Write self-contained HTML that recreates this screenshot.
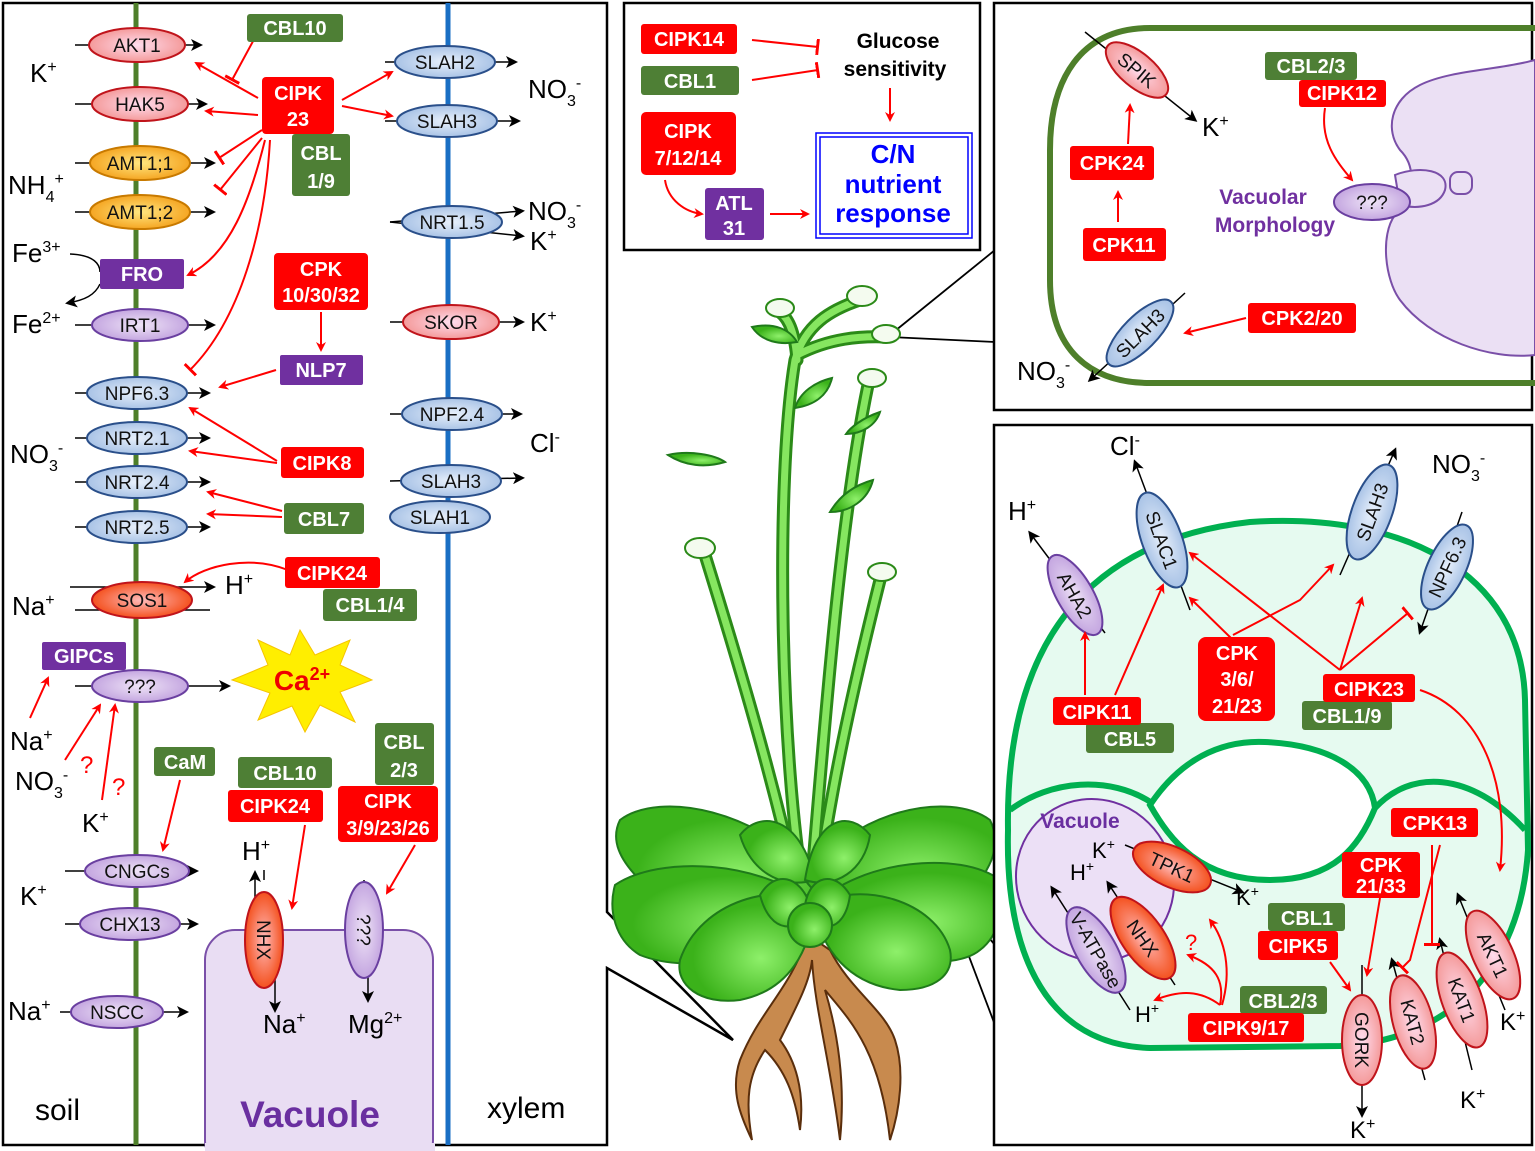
<!DOCTYPE html>
<html><head><meta charset="utf-8"><style>
html,body{margin:0;padding:0;background:#fff}
svg{display:block}
text{font-family:"Liberation Sans",Arial,sans-serif}
.w{fill:#fff;font-weight:bold;font-size:20px;text-anchor:middle}
.e{font-size:19px;text-anchor:middle;fill:#111}
.k{font-size:26px;fill:#000}
</style></head><body>
<svg width="1535" height="1151" viewBox="0 0 1535 1151" xmlns="http://www.w3.org/2000/svg">
<defs>
<marker id="ar" markerWidth="10" markerHeight="10" refX="8" refY="5" orient="auto" markerUnits="userSpaceOnUse"><path d="M0,0 L10,5 L0,10 L3,5Z" fill="#f00"/></marker>
<marker id="ak" markerWidth="12" markerHeight="12" refX="9" refY="6" orient="auto" markerUnits="userSpaceOnUse"><path d="M0,0 L12,6 L0,12 L3,6Z" fill="#000"/></marker>
<marker id="tb" markerWidth="4" markerHeight="16" refX="2" refY="8" orient="auto" markerUnits="userSpaceOnUse"><rect x="0" y="0" width="3" height="16" fill="#f00"/></marker>
<radialGradient id="gp"><stop offset="0" stop-color="#fde"/><stop offset="1" stop-color="#f49a9a"/></radialGradient>
<radialGradient id="go"><stop offset="0" stop-color="#ffe680"/><stop offset="1" stop-color="#f5a623"/></radialGradient>
<radialGradient id="gr"><stop offset="0" stop-color="#fbb"/><stop offset="1" stop-color="#f4511e"/></radialGradient>
<radialGradient id="gb"><stop offset="0" stop-color="#e8f0fb"/><stop offset="1" stop-color="#a9c3e6"/></radialGradient>
<radialGradient id="gv"><stop offset="0" stop-color="#efe4f7"/><stop offset="1" stop-color="#c4a6e0"/></radialGradient>
<radialGradient id="gl" cx="0.6" cy="0.6"><stop offset="0" stop-color="#8ef06a"/><stop offset="1" stop-color="#3bb21a"/></radialGradient>
</defs>

<!-- LEFT PANEL -->
<path d="M607,3 L3,3 L3,1145 L607,1145 L607,968 L733,1040 L607,912 Z" fill="#fff" stroke="#000" stroke-width="2.5"/>
<rect x="205" y="930" width="228" height="240" rx="30" fill="#e9ddf3" stroke="#7a4fa8" stroke-width="2"/>
<rect x="205" y="1143" width="230" height="8" fill="#e9ddf3"/>
<line x1="136" y1="3" x2="136" y2="1145" stroke="#4e7f2a" stroke-width="5"/>
<line x1="448" y1="3" x2="448" y2="1145" stroke="#1a6fc4" stroke-width="5"/>
<text x="35" y="1120" font-size="30">soil</text>
<text x="310" y="1127" font-size="37" font-weight="bold" fill="#6a2fa0" text-anchor="middle">Vacuole</text>
<text x="487" y="1118" font-size="30">xylem</text>

<g stroke="#000" stroke-width="1.5" fill="none">
<line x1="75" y1="45" x2="200" y2="45" marker-end="url(#ak)"/>
<line x1="75" y1="104" x2="205" y2="104" marker-end="url(#ak)"/>
<line x1="75" y1="163" x2="213" y2="163" marker-end="url(#ak)"/>
<line x1="75" y1="212" x2="213" y2="212" marker-end="url(#ak)"/>
<line x1="75" y1="325" x2="213" y2="325" marker-end="url(#ak)"/>
<line x1="75" y1="393" x2="208" y2="393" marker-end="url(#ak)"/>
<line x1="75" y1="438" x2="208" y2="438" marker-end="url(#ak)"/>
<line x1="75" y1="482" x2="208" y2="482" marker-end="url(#ak)"/>
<line x1="75" y1="527" x2="208" y2="527" marker-end="url(#ak)"/>
<line x1="70" y1="587" x2="213" y2="587" marker-end="url(#ak)"/>
<line x1="210" y1="610" x2="75" y2="610"/>
<line x1="75" y1="686" x2="228" y2="686" marker-end="url(#ak)"/>
<line x1="65" y1="871" x2="196" y2="871" marker-end="url(#ak)"/>
<line x1="65" y1="924" x2="196" y2="924" marker-end="url(#ak)"/>
<line x1="60" y1="1012" x2="186" y2="1012" marker-end="url(#ak)"/>
<line x1="385" y1="62" x2="515" y2="62" marker-end="url(#ak)"/>
<line x1="385" y1="121" x2="518" y2="121" marker-end="url(#ak)"/>
<line x1="390" y1="222" x2="522" y2="211" marker-end="url(#ak)"/>
<line x1="390" y1="222" x2="522" y2="236" marker-end="url(#ak)"/>
<line x1="390" y1="322" x2="522" y2="322" marker-end="url(#ak)"/>
<line x1="390" y1="414" x2="520" y2="414" marker-end="url(#ak)"/>
<line x1="390" y1="481" x2="522" y2="478" marker-end="url(#ak)"/>
<path d="M70,254 C95,255 100,265 100,272"/>
<path d="M100,284 C95,295 85,300 68,303" marker-end="url(#ak)"/>
<line x1="264" y1="870" x2="264" y2="880"/>
<line x1="255" y1="905" x2="255" y2="873" marker-end="url(#ak)"/>
<line x1="275" y1="975" x2="275" y2="1010" marker-end="url(#ak)"/>
<line x1="364" y1="880" x2="364" y2="895"/>
<line x1="368" y1="970" x2="368" y2="1000" marker-end="url(#ak)"/>
</g>

<g stroke-width="2">
<ellipse cx="137" cy="45" rx="48" ry="17" fill="url(#gp)" stroke="#c0141b"/>
<ellipse cx="140" cy="104" rx="48" ry="17" fill="url(#gp)" stroke="#c0141b"/>
<ellipse cx="140" cy="163" rx="50" ry="17" fill="url(#go)" stroke="#c87a00"/>
<ellipse cx="140" cy="212" rx="50" ry="17" fill="url(#go)" stroke="#c87a00"/>
<ellipse cx="140" cy="325" rx="48" ry="16" fill="url(#gv)" stroke="#6a3fa0"/>
<ellipse cx="137" cy="393" rx="50" ry="16" fill="url(#gb)" stroke="#2a4f8a"/>
<ellipse cx="137" cy="438" rx="50" ry="16" fill="url(#gb)" stroke="#2a4f8a"/>
<ellipse cx="137" cy="482" rx="50" ry="16" fill="url(#gb)" stroke="#2a4f8a"/>
<ellipse cx="137" cy="527" rx="50" ry="16" fill="url(#gb)" stroke="#2a4f8a"/>
<ellipse cx="142" cy="600" rx="50" ry="18" fill="url(#gr)" stroke="#c0141b"/>
<ellipse cx="140" cy="686" rx="48" ry="16" fill="url(#gv)" stroke="#6a3fa0"/>
<ellipse cx="137" cy="871" rx="52" ry="16" fill="url(#gv)" stroke="#6a3fa0"/>
<ellipse cx="130" cy="924" rx="50" ry="16" fill="url(#gv)" stroke="#6a3fa0"/>
<ellipse cx="117" cy="1012" rx="46" ry="16" fill="url(#gv)" stroke="#6a3fa0"/>
<ellipse cx="445" cy="62" rx="50" ry="16" fill="url(#gb)" stroke="#2a4f8a"/>
<ellipse cx="447" cy="121" rx="50" ry="16" fill="url(#gb)" stroke="#2a4f8a"/>
<ellipse cx="452" cy="222" rx="50" ry="16" fill="url(#gb)" stroke="#2a4f8a"/>
<ellipse cx="451" cy="322" rx="48" ry="17" fill="url(#gp)" stroke="#c0141b"/>
<ellipse cx="452" cy="414" rx="50" ry="16" fill="url(#gb)" stroke="#2a4f8a"/>
<ellipse cx="451" cy="481" rx="50" ry="16" fill="url(#gb)" stroke="#2a4f8a"/>
<ellipse cx="440" cy="517" rx="50" ry="16" fill="url(#gb)" stroke="#2a4f8a"/>
<ellipse cx="264" cy="940" rx="19" ry="48" fill="url(#gr)" stroke="#c0141b"/>
<ellipse cx="364" cy="930" rx="19" ry="48" fill="url(#gv)" stroke="#6a3fa0"/>
</g>
<g class="e">
<text x="137" y="52">AKT1</text><text x="140" y="111">HAK5</text>
<text x="140" y="170">AMT1;1</text><text x="140" y="219">AMT1;2</text>
<text x="140" y="332">IRT1</text><text x="137" y="400">NPF6.3</text>
<text x="137" y="445">NRT2.1</text><text x="137" y="489">NRT2.4</text>
<text x="137" y="534">NRT2.5</text><text x="142" y="607">SOS1</text>
<text x="140" y="693">???</text><text x="137" y="878">CNGCs</text>
<text x="130" y="931">CHX13</text><text x="117" y="1019">NSCC</text>
<text x="445" y="69">SLAH2</text><text x="447" y="128">SLAH3</text>
<text x="452" y="229">NRT1.5</text><text x="451" y="329">SKOR</text>
<text x="452" y="421">NPF2.4</text><text x="451" y="488">SLAH3</text>
<text x="440" y="524">SLAH1</text>
<text transform="translate(257,940) rotate(90)">NHX</text>
<text transform="translate(357,930) rotate(90)">???</text>
</g>

<g class="k">
<text x="30" y="82">K<tspan font-size="16" dy="-10">+</tspan></text>
<text x="8" y="194">NH<tspan font-size="16" dy="8">4</tspan><tspan font-size="16" dy="-18">+</tspan></text>
<text x="12" y="262">Fe<tspan font-size="16" dy="-10">3+</tspan></text>
<text x="12" y="333">Fe<tspan font-size="16" dy="-10">2+</tspan></text>
<text x="10" y="463">NO<tspan font-size="16" dy="8">3</tspan><tspan font-size="16" dy="-18">-</tspan></text>
<text x="12" y="615">Na<tspan font-size="16" dy="-10">+</tspan></text>
<text x="225" y="594">H<tspan font-size="16" dy="-10">+</tspan></text>
<text x="10" y="750">Na<tspan font-size="16" dy="-10">+</tspan></text>
<text x="15" y="790">NO<tspan font-size="16" dy="8">3</tspan><tspan font-size="16" dy="-18">-</tspan></text>
<text x="82" y="832">K<tspan font-size="16" dy="-10">+</tspan></text>
<text x="20" y="905">K<tspan font-size="16" dy="-10">+</tspan></text>
<text x="8" y="1020">Na<tspan font-size="16" dy="-10">+</tspan></text>
<text x="242" y="860">H<tspan font-size="16" dy="-10">+</tspan></text>
<text x="263" y="1033">Na<tspan font-size="16" dy="-10">+</tspan></text>
<text x="348" y="1033">Mg<tspan font-size="16" dy="-10">2+</tspan></text>
<text x="528" y="98">NO<tspan font-size="16" dy="8">3</tspan><tspan font-size="16" dy="-18">-</tspan></text>
<text x="528" y="220">NO<tspan font-size="16" dy="8">3</tspan><tspan font-size="16" dy="-18">-</tspan></text>
<text x="530" y="250">K<tspan font-size="16" dy="-10">+</tspan></text>
<text x="530" y="331">K<tspan font-size="16" dy="-10">+</tspan></text>
<text x="530" y="452">Cl<tspan font-size="16" dy="-10">-</tspan></text>
</g>
<text x="80" y="773" font-size="24" fill="#f00">?</text>
<text x="112" y="795" font-size="24" fill="#f00">?</text>

<polygon points="300,630 315,655 350,640 340,665 372,680 340,692 355,722 320,705 305,732 292,706 258,720 270,693 232,680 268,665 258,640 290,655" fill="#ffee00" stroke="#f5c400" stroke-width="1"/>
<text x="302" y="690" font-size="28" font-weight="bold" fill="#e00" text-anchor="middle">Ca<tspan font-size="18" dy="-10">2+</tspan></text>

<g stroke="#f00" stroke-width="2" fill="none">
<line x1="258" y1="32" x2="232" y2="80" marker-end="url(#tb)"/>
<line x1="258" y1="98" x2="196" y2="63" marker-end="url(#ar)"/>
<line x1="258" y1="115" x2="206" y2="111" marker-end="url(#ar)"/>
<line x1="262" y1="130" x2="219" y2="158" marker-end="url(#tb)"/>
<line x1="262" y1="138" x2="220" y2="190" marker-end="url(#tb)"/>
<path d="M265,140 C250,200 230,255 188,275" marker-end="url(#ar)"/>
<path d="M270,140 C265,230 240,320 190,370" marker-end="url(#tb)"/>
<line x1="342" y1="100" x2="392" y2="72" marker-end="url(#ar)"/>
<line x1="342" y1="106" x2="392" y2="116" marker-end="url(#ar)"/>
<line x1="321" y1="312" x2="321" y2="350" marker-end="url(#ar)"/>
<line x1="276" y1="370" x2="220" y2="387" marker-end="url(#ar)"/>
<line x1="277" y1="461" x2="190" y2="408" marker-end="url(#ar)"/>
<line x1="277" y1="463" x2="190" y2="451" marker-end="url(#ar)"/>
<line x1="282" y1="511" x2="208" y2="492" marker-end="url(#ar)"/>
<line x1="282" y1="517" x2="208" y2="514" marker-end="url(#ar)"/>
<path d="M288,570 C250,555 205,565 185,582" marker-end="url(#ar)"/>
<line x1="30" y1="718" x2="48" y2="678" marker-end="url(#ar)"/>
<line x1="65" y1="760" x2="100" y2="705" marker-end="url(#ar)"/>
<line x1="102" y1="800" x2="115" y2="705" marker-end="url(#ar)"/>
<line x1="180" y1="780" x2="163" y2="850" marker-end="url(#ar)"/>
<line x1="305" y1="825" x2="292" y2="908" marker-end="url(#ar)"/>
<line x1="415" y1="845" x2="387" y2="893" marker-end="url(#ar)"/>
</g>

<g>
<rect x="247" y="14" width="96" height="28" rx="3" fill="#4e7f35"/><text class="w" x="295" y="35">CBL10</text>
<rect x="292" y="134" width="58" height="62" rx="3" fill="#4e7f35"/><text class="w" x="321" y="160">CBL</text><text class="w" x="321" y="188">1/9</text>
<rect x="262" y="77" width="72" height="57" rx="4" fill="#f00"/><text class="w" x="298" y="100">CIPK</text><text class="w" x="298" y="126">23</text>
<rect x="100" y="259" width="84" height="30" rx="2" fill="#7030a0"/><text class="w" x="142" y="281">FRO</text>
<rect x="274" y="253" width="94" height="57" rx="4" fill="#f00"/><text class="w" x="321" y="276">CPK</text><text class="w" x="321" y="302">10/30/32</text>
<rect x="280" y="355" width="83" height="30" rx="2" fill="#7030a0"/><text class="w" x="321" y="377">NLP7</text>
<rect x="281" y="447" width="83" height="31" rx="3" fill="#f00"/><text class="w" x="322" y="470">CIPK8</text>
<rect x="284" y="503" width="80" height="31" rx="3" fill="#4e7f35"/><text class="w" x="324" y="526">CBL7</text>
<rect x="285" y="557" width="95" height="31" rx="3" fill="#f00"/><text class="w" x="332" y="580">CIPK24</text>
<rect x="323" y="589" width="94" height="32" rx="3" fill="#4e7f35"/><text class="w" x="370" y="612">CBL1/4</text>
<rect x="42" y="642" width="84" height="28" rx="2" fill="#7030a0"/><text class="w" x="84" y="663">GIPCs</text>
<rect x="154" y="747" width="61" height="29" rx="3" fill="#4e7f35"/><text class="w" x="185" y="769">CaM</text>
<rect x="238" y="757" width="94" height="31" rx="3" fill="#4e7f35"/><text class="w" x="285" y="780">CBL10</text>
<rect x="228" y="790" width="95" height="32" rx="3" fill="#f00"/><text class="w" x="275" y="813">CIPK24</text>
<rect x="375" y="723" width="59" height="62" rx="3" fill="#4e7f35"/><text class="w" x="404" y="749">CBL</text><text class="w" x="404" y="777">2/3</text>
<rect x="338" y="786" width="100" height="56" rx="4" fill="#f00"/><text class="w" x="388" y="808">CIPK</text><text class="w" x="388" y="835">3/9/23/26</text>
</g>

<!-- TOP MIDDLE PANEL -->
<rect x="624" y="3" width="356" height="247" fill="#fff" stroke="#000" stroke-width="2.5"/>
<rect x="641" y="24" width="96" height="30" rx="3" fill="#f00"/><text class="w" x="689" y="46">CIPK14</text>
<rect x="641" y="66" width="98" height="29" rx="3" fill="#4e7f35"/><text class="w" x="690" y="88">CBL1</text>
<rect x="641" y="112" width="95" height="63" rx="5" fill="#f00"/><text class="w" x="688" y="138">CIPK</text><text class="w" x="688" y="165">7/12/14</text>
<rect x="705" y="188" width="59" height="52" rx="3" fill="#7030a0"/><text class="w" x="734" y="210">ATL</text><text class="w" x="734" y="235">31</text>
<text x="898" y="48" font-size="21" font-weight="bold" text-anchor="middle">Glucose</text>
<text x="895" y="76" font-size="21" font-weight="bold" text-anchor="middle">sensitivity</text>
<rect x="816" y="133" width="156" height="105" fill="none" stroke="#0000ff" stroke-width="1.5"/>
<rect x="820" y="137" width="148" height="97" fill="none" stroke="#0000ff" stroke-width="1.5"/>
<g font-size="26" font-weight="bold" fill="#0000ff" text-anchor="middle">
<text x="893" y="163">C/N</text><text x="893" y="193">nutrient</text><text x="893" y="222">response</text></g>
<g stroke="#f00" stroke-width="2" fill="none">
<line x1="752" y1="40" x2="818" y2="47" marker-end="url(#tb)"/>
<line x1="752" y1="80" x2="818" y2="70" marker-end="url(#tb)"/>
<line x1="890" y1="88" x2="890" y2="120" marker-end="url(#ar)"/>
<path d="M665,180 C668,200 685,212 702,214" marker-end="url(#ar)"/>
<line x1="770" y1="214" x2="808" y2="214" marker-end="url(#ar)"/>
</g>

<!-- PLANT -->
<g stroke="#000" stroke-width="1.8" fill="none">
<polyline points="890,335 995,250"/>
<polyline points="890,337 995,342"/>
<polyline points="940,880 995,945"/>
<polyline points="940,880 995,1025"/>
</g>
<g stroke="#1f7a1a" stroke-width="2">
<g fill="#c88a4e" stroke="#5a2e0c">
<path d="M808,935 C790,990 760,1010 740,1060 C730,1090 740,1115 752,1140 C745,1100 748,1075 765,1050 C785,1070 795,1095 800,1130 C805,1090 795,1060 780,1040 C800,1000 810,980 812,960 C815,1010 830,1060 840,1140 C845,1090 840,1040 825,990 C850,1020 880,1050 890,1140 C900,1110 905,1070 895,1040 C885,1010 850,990 830,950 Z"/>
</g>
<g fill="none" stroke="#2b8a18" stroke-width="13" stroke-linecap="round">
<path d="M805,900 C780,760 775,480 795,360 C805,325 830,310 860,300"/>
<path d="M810,900 C825,720 840,520 868,385"/>
<path d="M800,900 C775,790 750,700 705,555"/>
<path d="M815,900 C830,800 845,720 880,580"/>
<path d="M797,355 C830,338 860,336 886,337"/>
<path d="M797,360 C795,335 790,320 780,312"/>
</g>
<g fill="none" stroke="#86e660" stroke-width="7" stroke-linecap="round">
<path d="M805,900 C780,760 775,480 795,360 C805,325 830,310 860,300"/>
<path d="M810,900 C825,720 840,520 868,385"/>
<path d="M800,900 C775,790 750,700 705,555"/>
<path d="M815,900 C830,800 845,720 880,580"/>
<path d="M797,355 C830,338 860,336 886,337"/>
<path d="M797,360 C795,335 790,320 780,312"/>
</g>
<g fill="#f4fbef" stroke="#2b8a18">
<ellipse cx="780" cy="308" rx="14" ry="9"/><ellipse cx="862" cy="296" rx="15" ry="10"/><ellipse cx="886" cy="334" rx="14" ry="9"/><ellipse cx="872" cy="378" rx="14" ry="9"/><ellipse cx="882" cy="572" rx="14" ry="9"/><ellipse cx="700" cy="548" rx="15" ry="10"/></g>
<g fill="url(#gl)">
<path d="M752,327 C775,322 790,330 797,342 C780,345 762,342 752,327Z"/>
<path d="M832,378 C815,382 800,392 795,408 C815,405 828,395 832,378Z"/>
<path d="M880,412 C862,418 850,428 846,434 C862,434 876,425 880,412Z"/>
<path d="M668,455 C690,450 715,455 725,462 C705,468 685,466 668,455Z"/>
<path d="M873,480 C855,485 840,495 830,512 C850,512 868,500 873,480Z"/>
<path d="M620,820 C660,790 760,810 820,880 C780,940 680,930 640,880 C620,860 610,840 620,820Z"/>
<path d="M990,820 C950,790 850,810 805,880 C850,940 940,930 980,880 C995,860 1000,840 990,820Z"/>
<path d="M615,885 C660,855 760,860 815,905 C780,960 690,975 640,955 C615,940 608,910 615,885Z"/>
<path d="M1000,880 C960,850 860,860 815,905 C850,960 950,975 980,950 C1000,935 1005,905 1000,880Z"/>
<path d="M680,960 C700,900 780,880 815,905 C810,950 790,990 740,1000 C700,1005 675,985 680,960Z"/>
<path d="M950,950 C935,900 860,880 815,905 C820,950 850,985 900,990 C935,990 955,975 950,950Z"/>
<path d="M740,835 C760,810 800,815 815,880 C780,890 750,870 740,835Z"/>
<path d="M870,835 C850,810 815,815 805,880 C835,890 865,870 870,835Z"/>
<path d="M760,895 C775,870 800,875 810,905 C800,935 770,935 760,895Z"/>
<path d="M850,895 C835,870 810,875 805,905 C815,935 845,935 850,895Z"/>
<ellipse cx="810" cy="925" rx="22" ry="22"/>
</g>
</g>

<!-- TOP RIGHT PANEL -->
<rect x="994" y="3" width="538" height="407" fill="#fff" stroke="#000" stroke-width="2.5"/>
<path d="M1535,28 L1150,28 C1080,28 1050,80 1050,150 L1050,280 C1050,350 1090,383 1150,383 L1535,383" fill="none" stroke="#4e7f2a" stroke-width="6"/>
<path d="M1535,60 C1500,70 1450,70 1420,85 C1390,100 1385,130 1400,150 C1420,170 1410,200 1395,215 C1380,235 1385,280 1400,300 C1430,340 1490,360 1535,355 Z" fill="#ebe0f4" stroke="#7a4fa8" stroke-width="2"/>
<path d="M1395,175 C1420,165 1450,170 1445,190 C1440,205 1420,210 1400,205 Z" fill="#ebe0f4" stroke="#7a4fa8" stroke-width="2"/>
<rect x="1450" y="172" width="22" height="22" rx="8" fill="#ebe0f4" stroke="#7a4fa8" stroke-width="2"/>
<ellipse cx="1372" cy="202" rx="38" ry="18" fill="url(#gv)" stroke="#6a3fa0" stroke-width="2"/>
<text class="e" x="1372" y="209">???</text>
<text x="1263" y="204" font-size="21" font-weight="bold" fill="#7030a0" text-anchor="middle">Vacuolar</text>
<text x="1275" y="232" font-size="21" font-weight="bold" fill="#7030a0" text-anchor="middle">Morphology</text>
<g stroke="#000" stroke-width="1.5" fill="none">
<line x1="1085" y1="32" x2="1195" y2="120" marker-end="url(#ak)"/>
<line x1="1185" y1="293" x2="1090" y2="380" marker-end="url(#ak)"/>
</g>
<g transform="translate(1137,70) rotate(40)"><ellipse rx="38" ry="17" fill="url(#gp)" stroke="#c0141b" stroke-width="2"/><text class="e" y="7">SPIK</text></g>
<g transform="translate(1140,333) rotate(-45)"><ellipse rx="44" ry="17" fill="url(#gb)" stroke="#2a4f8a" stroke-width="2"/><text class="e" y="7">SLAH3</text></g>
<text class="k" x="1202" y="136">K<tspan font-size="16" dy="-10">+</tspan></text>
<text class="k" x="1017" y="380">NO<tspan font-size="16" dy="8">3</tspan><tspan font-size="16" dy="-18">-</tspan></text>
<g stroke="#f00" stroke-width="2" fill="none">
<line x1="1118" y1="222" x2="1118" y2="192" marker-end="url(#ar)"/>
<line x1="1128" y1="144" x2="1130" y2="105" marker-end="url(#ar)"/>
<path d="M1325,108 C1320,140 1335,160 1352,180" marker-end="url(#ar)"/>
<line x1="1246" y1="318" x2="1185" y2="333" marker-end="url(#ar)"/>
</g>
<rect x="1070" y="146" width="84" height="34" rx="3" fill="#f00"/><text class="w" x="1112" y="170">CPK24</text>
<rect x="1083" y="228" width="83" height="33" rx="3" fill="#f00"/><text class="w" x="1124" y="252">CPK11</text>
<rect x="1265" y="52" width="92" height="28" rx="3" fill="#4e7f35"/><text class="w" x="1311" y="73">CBL2/3</text>
<rect x="1299" y="80" width="87" height="27" rx="3" fill="#f00"/><text class="w" x="1342" y="100">CIPK12</text>
<rect x="1248" y="303" width="108" height="30" rx="3" fill="#f00"/><text class="w" x="1302" y="325">CPK2/20</text>

<!-- BOTTOM RIGHT PANEL -->
<rect x="994" y="425" width="538" height="720" fill="#fff" stroke="#000" stroke-width="2.5"/>
<path d="M1008,830 C1005,640 1090,540 1250,522 C1400,512 1522,570 1525,700 L1528,850 C1520,970 1450,1040 1340,1046 L1150,1048 C1050,1045 1005,960 1008,830 Z" fill="#e6faf0" stroke="#00b050" stroke-width="6"/>
<path d="M1150,805 C1180,760 1220,740 1265,742 C1330,745 1370,770 1375,808 C1360,845 1335,880 1270,880 C1200,880 1170,840 1150,805 Z" fill="#fff" stroke="#00b050" stroke-width="6"/>
<path d="M1010,810 C1050,780 1110,775 1152,803 M1375,808 C1410,770 1470,770 1525,830" fill="none" stroke="#00b050" stroke-width="6"/>
<ellipse cx="1095" cy="880" rx="78" ry="82" transform="rotate(-30 1095 880)" fill="#ece0f6" stroke="#7030a0" stroke-width="2"/>
<text x="1080" y="828" font-size="21" font-weight="bold" fill="#6a2fa0" text-anchor="middle">Vacuole</text>

<g stroke="#000" stroke-width="1.5" fill="none">
<line x1="1105" y1="633" x2="1030" y2="533" marker-end="url(#ak)"/>
<line x1="1190" y1="610" x2="1135" y2="462" marker-end="url(#ak)"/>
<line x1="1340" y1="575" x2="1395" y2="450" marker-end="url(#ak)"/>
<line x1="1462" y1="512" x2="1420" y2="632" marker-end="url(#ak)"/>
<line x1="1125" y1="845" x2="1242" y2="892" marker-end="url(#ak)"/>
<line x1="1175" y1="985" x2="1108" y2="883" marker-end="url(#ak)"/>
<line x1="1130" y1="1010" x2="1052" y2="888" marker-end="url(#ak)"/>
<line x1="1362" y1="965" x2="1362" y2="1115" marker-end="url(#ak)"/>
<line x1="1425" y1="1080" x2="1392" y2="960" marker-end="url(#ak)"/>
<line x1="1472" y1="1070" x2="1440" y2="940" marker-end="url(#ak)"/>
<line x1="1505" y1="1010" x2="1458" y2="895" marker-end="url(#ak)"/>
</g>
<g stroke-width="2">
<g transform="translate(1075,595) rotate(60)"><ellipse rx="45" ry="18" fill="url(#gv)" stroke="#6a3fa0"/><text class="e" y="7">AHA2</text></g>
<g transform="translate(1162,540) rotate(70)"><ellipse rx="50" ry="20" fill="url(#gb)" stroke="#2a4f8a"/><text class="e" y="7">SLAC1</text></g>
<g transform="translate(1372,512) rotate(-70)"><ellipse rx="50" ry="20" fill="url(#gb)" stroke="#2a4f8a"/><text class="e" y="7">SLAH3</text></g>
<g transform="translate(1447,567) rotate(-65)"><ellipse rx="46" ry="19" fill="url(#gb)" stroke="#2a4f8a"/><text class="e" y="7">NPF6.3</text></g>
<g transform="translate(1172,867) rotate(25)"><ellipse rx="42" ry="20" fill="url(#gr)" stroke="#c0141b"/><text class="e" y="7">TPK1</text></g>
<g transform="translate(1143,938) rotate(55)"><ellipse rx="48" ry="21" fill="url(#gr)" stroke="#c0141b"/><text class="e" y="7">NHX</text></g>
<g transform="translate(1096,950) rotate(60)"><ellipse rx="48" ry="20" fill="url(#gv)" stroke="#6a3fa0"/><text class="e" y="7">V-ATPase</text></g>
<g transform="translate(1362,1040) rotate(90)"><ellipse rx="45" ry="20" fill="url(#gp)" stroke="#c0141b"/><text class="e" y="7">GORK</text></g>
<g transform="translate(1413,1022) rotate(75)"><ellipse rx="48" ry="20" fill="url(#gp)" stroke="#c0141b"/><text class="e" y="7">KAT2</text></g>
<g transform="translate(1462,1000) rotate(70)"><ellipse rx="50" ry="20" fill="url(#gp)" stroke="#c0141b"/><text class="e" y="7">KAT1</text></g>
<g transform="translate(1493,955) rotate(65)"><ellipse rx="48" ry="20" fill="url(#gp)" stroke="#c0141b"/><text class="e" y="7">AKT1</text></g>
</g>
<g class="k">
<text x="1110" y="455">Cl<tspan font-size="16" dy="-10">-</tspan></text>
<text x="1008" y="520">H<tspan font-size="16" dy="-10">+</tspan></text>
<text x="1432" y="473">NO<tspan font-size="16" dy="8">3</tspan><tspan font-size="16" dy="-18">-</tspan></text>
<text x="1092" y="858" font-size="22">K<tspan font-size="14" dy="-9">+</tspan></text>
<text x="1070" y="880" font-size="22">H<tspan font-size="14" dy="-9">+</tspan></text>
<text x="1236" y="905" font-size="22">K<tspan font-size="14" dy="-9">+</tspan></text>
<text x="1135" y="1022" font-size="22">H<tspan font-size="14" dy="-9">+</tspan></text>
<text x="1350" y="1138" font-size="24">K<tspan font-size="16" dy="-9">+</tspan></text>
<text x="1460" y="1108" font-size="24">K<tspan font-size="16" dy="-9">+</tspan></text>
<text x="1500" y="1030" font-size="24">K<tspan font-size="16" dy="-9">+</tspan></text>
</g>
<text x="1185" y="950" font-size="22" fill="#f00">?</text>
<g stroke="#f00" stroke-width="2" fill="none">
<line x1="1085" y1="695" x2="1085" y2="633" marker-end="url(#ar)"/>
<line x1="1115" y1="695" x2="1163" y2="585" marker-end="url(#ar)"/>
<polyline points="1233,635 1300,600 1333,565" marker-end="url(#ar)"/>
<line x1="1233" y1="640" x2="1190" y2="598" marker-end="url(#ar)"/>
<line x1="1340" y1="670" x2="1190" y2="553" marker-end="url(#ar)"/>
<line x1="1340" y1="670" x2="1362" y2="598" marker-end="url(#ar)"/>
<line x1="1340" y1="670" x2="1408" y2="613" marker-end="url(#tb)"/>
<path d="M1420,690 C1480,710 1510,780 1500,870" marker-end="url(#ar)"/>
<line x1="1380" y1="898" x2="1367" y2="975" marker-end="url(#ar)"/>
<line x1="1330" y1="962" x2="1350" y2="990" marker-end="url(#ar)"/>
<polyline points="1440,845 1410,960 1402,968" marker-end="url(#tb)"/>
<line x1="1432" y1="845" x2="1432" y2="945" marker-end="url(#tb)"/>
<path d="M1220,1005 C1200,990 1180,990 1155,1000" marker-end="url(#ar)"/>
<path d="M1220,1005 C1225,980 1215,965 1188,955" marker-end="url(#ar)"/>
<path d="M1222,1005 C1232,970 1225,940 1210,920" marker-end="url(#ar)"/>
</g>
<rect x="1198" y="637" width="77" height="84" rx="8" fill="#f00"/><text class="w" x="1237" y="660">CPK</text><text class="w" x="1237" y="686">3/6/</text><text class="w" x="1237" y="713">21/23</text>
<rect x="1086" y="723" width="88" height="30" rx="3" fill="#4e7f35"/><text class="w" x="1130" y="746">CBL5</text>
<rect x="1053" y="697" width="88" height="28" rx="3" fill="#f00"/><text class="w" x="1097" y="719">CIPK11</text>
<rect x="1302" y="701" width="90" height="29" rx="3" fill="#4e7f35"/><text class="w" x="1347" y="723">CBL1/9</text>
<rect x="1323" y="674" width="92" height="28" rx="3" fill="#f00"/><text class="w" x="1369" y="696">CIPK23</text>
<rect x="1391" y="808" width="87" height="29" rx="3" fill="#f00"/><text class="w" x="1435" y="830">CPK13</text>
<rect x="1342" y="852" width="78" height="46" rx="3" fill="#f00"/><text class="w" x="1381" y="872">CPK</text><text class="w" x="1381" y="893">21/33</text>
<rect x="1268" y="903" width="77" height="28" rx="3" fill="#4e7f35"/><text class="w" x="1307" y="925">CBL1</text>
<rect x="1258" y="931" width="80" height="29" rx="3" fill="#f00"/><text class="w" x="1298" y="953">CIPK5</text>
<rect x="1240" y="986" width="87" height="28" rx="3" fill="#4e7f35"/><text class="w" x="1283" y="1008">CBL2/3</text>
<rect x="1188" y="1013" width="116" height="29" rx="3" fill="#f00"/><text class="w" x="1246" y="1035">CIPK9/17</text>
</svg>
</body></html>
